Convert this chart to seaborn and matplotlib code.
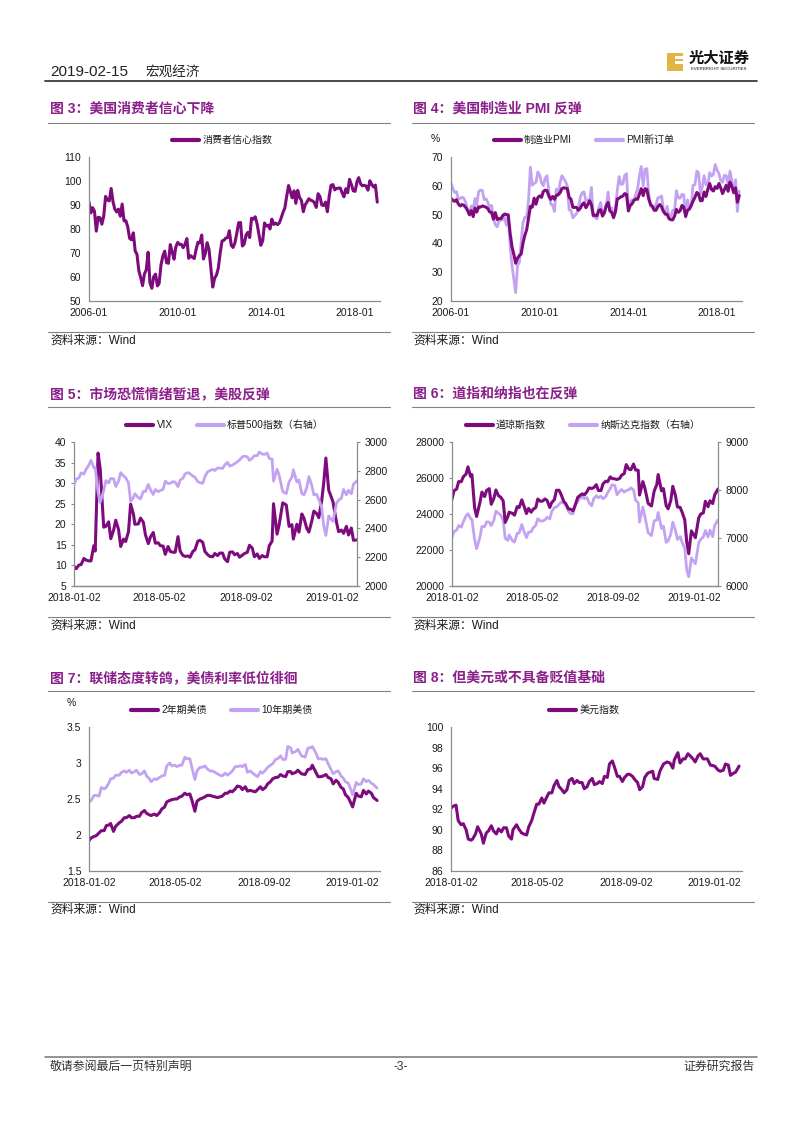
import numpy as np
import pandas as pd
import matplotlib
matplotlib.use('Agg')
import matplotlib.pyplot as plt
import seaborn as sns
from matplotlib.lines import Line2D
from matplotlib.patches import Rectangle

# ---------------- data ----------------
# Monthly (2006-01 .. 2019-01)
consumer_sentiment = [
    91.2, 86.7, 88.9, 87.4, 79.1, 84.9, 84.7, 82.0, 85.4, 93.6, 92.1, 91.7,
    96.9, 91.3, 88.4, 87.1, 88.3, 85.3, 90.4, 83.4, 83.4, 80.9, 76.1, 75.5,
    78.4, 70.8, 69.5, 62.6, 59.8, 56.4, 61.2, 63.0, 70.3, 57.6, 55.3, 60.1,
    61.2, 56.3, 57.3, 65.1, 68.7, 70.8, 66.0, 65.7, 73.5, 70.6, 67.4, 72.5,
    74.4, 73.6, 73.6, 72.2, 73.6, 76.0, 67.8, 68.9, 68.2, 67.7, 71.6, 74.5,
    74.2, 77.5, 67.5, 69.8, 74.3, 71.5, 63.7, 55.8, 59.5, 60.8, 63.7, 69.9,
    75.0, 75.3, 76.2, 76.4, 79.3, 73.2, 72.3, 74.3, 78.3, 82.6, 82.7, 72.9,
    73.8, 77.6, 78.6, 76.4, 84.5, 84.1, 85.1, 82.1, 77.5, 73.2, 75.1, 82.5,
    81.2, 81.6, 80.0, 84.1, 81.9, 82.5, 81.8, 82.5, 84.6, 86.9, 88.8, 93.6,
    98.1, 95.4, 93.0, 95.9, 90.7, 96.1, 93.1, 91.9, 87.2, 90.0, 91.3, 92.6,
    92.0, 91.7, 91.0, 89.0, 94.7, 93.5, 90.0, 89.8, 91.2, 87.2, 93.8, 98.2,
    98.5, 96.3, 96.9, 97.0, 97.1, 95.1, 93.4, 96.8, 95.1, 100.7, 98.5, 95.9,
    95.7, 99.7, 101.4, 98.8, 98.0, 98.2, 97.9, 96.2, 100.1, 98.6, 97.5, 98.3,
    91.2]

pmi = [
    55.6, 55.0, 54.6, 55.2, 53.7, 53.0, 53.5, 53.2, 52.5, 51.4, 49.9, 51.4,
    49.3, 52.3, 50.9, 52.7, 52.6, 53.0, 52.8, 52.6, 52.0, 50.9, 50.8, 48.4,
    50.7, 48.3, 48.6, 48.6, 49.6, 50.2, 50.0, 49.9, 43.5, 38.9, 36.2, 33.1,
    34.9, 35.8, 36.3, 40.1, 42.8, 44.8, 48.9, 52.9, 52.6, 55.7, 53.6, 55.9,
    56.5, 56.0, 58.0, 58.5, 58.3, 56.4, 55.3, 56.3, 55.3, 56.6, 57.0, 57.5,
    59.0, 59.3, 59.2, 59.0, 56.0, 55.3, 52.5, 52.5, 52.5, 51.5, 52.2, 53.5,
    54.1, 52.4, 53.4, 54.8, 53.5, 49.7, 49.8, 49.6, 51.5, 51.7, 49.5, 50.7,
    53.1, 54.2, 51.3, 50.7, 49.0, 50.9, 55.4, 55.7, 56.2, 56.4, 57.3, 57.0,
    51.3, 53.2, 53.7, 54.9, 55.4, 55.3, 57.1, 59.0, 56.6, 59.0, 58.7, 55.5,
    53.5, 52.9, 51.5, 51.5, 52.8, 53.5, 52.7, 51.1, 50.2, 50.1, 48.6, 48.2,
    48.2, 49.5, 51.8, 50.8, 51.3, 53.2, 52.6, 49.4, 51.5, 51.9, 53.2, 54.7,
    56.0, 57.7, 57.2, 54.8, 54.9, 57.8, 56.3, 58.8, 60.8, 58.7, 58.2, 59.7,
    59.1, 60.8, 59.3, 57.3, 58.7, 60.2, 58.1, 61.3, 59.8, 57.7, 59.3, 54.3,
    56.6]

pmi_new_orders = [
    61.0, 59.0, 57.7, 58.0, 55.5, 55.6, 56.0, 55.7, 54.1, 51.5, 51.0, 53.0,
    51.5, 55.6, 53.3, 58.0, 58.5, 58.4, 55.2, 55.5, 54.2, 52.3, 53.2, 48.6,
    46.5, 45.8, 47.8, 48.1, 48.2, 49.0, 46.3, 49.4, 39.1, 32.4, 27.6, 22.9,
    32.4, 33.4, 40.4, 47.2, 49.1, 49.0, 55.0, 66.5, 60.2, 60.8, 61.2, 64.8,
    63.7, 61.0, 60.0, 62.6, 63.5, 58.0, 53.7, 53.3, 51.1, 58.9, 56.6, 60.9,
    63.5, 62.5, 61.5, 59.9, 51.6, 51.4, 48.9, 49.7, 50.4, 52.4, 56.0, 57.6,
    57.9, 54.8, 55.1, 54.7, 59.4, 49.5, 49.0, 48.5, 52.3, 54.2, 50.3, 50.3,
    53.3, 57.8, 51.4, 52.3, 48.8, 51.9, 58.3, 63.2, 60.5, 60.6, 63.6, 64.2,
    51.2, 54.5, 55.1, 55.1, 56.9, 58.9, 63.4, 66.7, 60.0, 65.8, 66.0, 57.3,
    52.9, 52.5, 51.8, 53.5, 55.8, 56.0, 56.5, 51.7, 50.1, 52.9, 48.9, 49.2,
    51.5, 51.5, 58.3, 55.8, 55.7, 57.0, 56.9, 49.1, 55.1, 52.1, 53.0, 60.2,
    60.4, 65.1, 64.5, 57.2, 59.5, 63.5, 60.4, 60.3, 64.6, 63.4, 64.0, 67.4,
    65.4, 64.2, 61.9, 61.2, 63.7, 63.5, 60.2, 65.1, 61.8, 57.4, 62.1, 51.1,
    58.2]

month_start = '2006-01-01'

# Daily markets (sampled trading days, 2018-01-02 .. 2019-02-06)
trade_dates = [
    '2018-01-02', '2018-01-05', '2018-01-09', '2018-01-12', '2018-01-16', '2018-01-19',
    '2018-01-23', '2018-01-26', '2018-01-30',
    '2018-02-01', '2018-02-05', '2018-02-08', '2018-02-13', '2018-02-16', '2018-02-20',
    '2018-02-23', '2018-02-27',
    '2018-03-02', '2018-03-06', '2018-03-09', '2018-03-13', '2018-03-16', '2018-03-20',
    '2018-03-23', '2018-03-27', '2018-03-29',
    '2018-04-03', '2018-04-06', '2018-04-10', '2018-04-13', '2018-04-17', '2018-04-20',
    '2018-04-24', '2018-04-27',
    '2018-05-01', '2018-05-04', '2018-05-08', '2018-05-11', '2018-05-15', '2018-05-18',
    '2018-05-22', '2018-05-25', '2018-05-29',
    '2018-06-01', '2018-06-05', '2018-06-08', '2018-06-12', '2018-06-15', '2018-06-19',
    '2018-06-22', '2018-06-26', '2018-06-29',
    '2018-07-03', '2018-07-06', '2018-07-10', '2018-07-13', '2018-07-17', '2018-07-20',
    '2018-07-24', '2018-07-27', '2018-07-31',
    '2018-08-03', '2018-08-07', '2018-08-10', '2018-08-14', '2018-08-17', '2018-08-21',
    '2018-08-24', '2018-08-28', '2018-08-31',
    '2018-09-04', '2018-09-07', '2018-09-11', '2018-09-14', '2018-09-18', '2018-09-21',
    '2018-09-25', '2018-09-28',
    '2018-10-02', '2018-10-05', '2018-10-09', '2018-10-11', '2018-10-16', '2018-10-19',
    '2018-10-24', '2018-10-29',
    '2018-11-02', '2018-11-06', '2018-11-08', '2018-11-13', '2018-11-16', '2018-11-20',
    '2018-11-23', '2018-11-27', '2018-11-30',
    '2018-12-04', '2018-12-07', '2018-12-11', '2018-12-14', '2018-12-18', '2018-12-21',
    '2018-12-24', '2018-12-28',
    '2019-01-03', '2019-01-08', '2019-01-11', '2019-01-15', '2019-01-18', '2019-01-22',
    '2019-01-25', '2019-01-29',
    '2019-02-01', '2019-02-06']

vix = [9.8, 9.2, 10.1, 10.2, 11.7, 11.3, 11.1, 11.1, 14.8,
       13.5, 37.3, 33.5, 19.3, 19.5, 20.6, 16.5, 18.6,
       21.0, 18.7, 14.6, 16.4, 15.8, 18.2, 24.9, 22.5, 20.0,
       20.1, 21.5, 20.5, 17.4, 15.3, 16.9, 18.0, 15.4,
       15.5, 14.8, 14.7, 12.7, 14.6, 13.4, 13.2, 13.2, 17.0,
       13.5, 12.4, 12.2, 12.3, 12.0, 13.4, 13.8, 15.9, 16.1,
       15.6, 13.4, 12.6, 12.2, 12.1, 12.9, 12.4, 13.0, 13.0,
       11.6, 10.9, 13.2, 13.3, 12.6, 12.9, 12.0, 12.5, 12.9,
       13.2, 14.9, 14.2, 12.1, 12.8, 11.7, 12.4, 12.1,
       12.1, 14.8, 15.9, 25.0, 17.6, 19.9, 25.2, 24.7,
       19.5, 19.9, 16.4, 20.0, 18.1, 22.5, 21.5, 19.0, 18.1,
       20.7, 23.2, 22.6, 21.6, 25.6, 30.1, 36.1, 28.3,
       25.5, 20.5, 18.2, 18.6, 17.8, 19.5, 17.4, 19.1,
       16.1, 16.2]

spx = [2696, 2743, 2751, 2786, 2777, 2810, 2839, 2873, 2822,
       2822, 2649, 2581, 2662, 2732, 2716, 2747, 2744,
       2691, 2728, 2787, 2765, 2752, 2717, 2588, 2613, 2641,
       2614, 2605, 2657, 2656, 2706, 2670, 2635, 2670,
       2655, 2663, 2672, 2728, 2711, 2713, 2725, 2721, 2690,
       2735, 2749, 2779, 2787, 2780, 2763, 2755, 2724, 2718,
       2713, 2760, 2794, 2801, 2810, 2802, 2820, 2819, 2816,
       2840, 2858, 2833, 2840, 2850, 2863, 2875, 2897, 2902,
       2897, 2872, 2888, 2905, 2905, 2930, 2916, 2914,
       2923, 2886, 2880, 2728, 2810, 2768, 2656, 2641,
       2723, 2756, 2807, 2722, 2736, 2642, 2633, 2682, 2760,
       2700, 2633, 2637, 2600, 2547, 2417, 2351, 2486,
       2448, 2575, 2596, 2610, 2671, 2633, 2665, 2640,
       2707, 2731]

dow = [24824, 25296, 25386, 25803, 25793, 26072, 26211, 26617, 26077,
       26187, 24346, 23861, 24641, 25219, 24965, 25310, 25410,
       24538, 24874, 25336, 25008, 24946, 24727, 23533, 23857, 24103,
       24033, 23933, 24408, 24360, 24786, 24463, 24025, 24311,
       24100, 24263, 24361, 24831, 24706, 24715, 24834, 24753, 24362,
       24635, 24799, 25317, 25321, 25090, 24701, 24581, 24284, 24271,
       24175, 24456, 24920, 25019, 25120, 25058, 25242, 25451, 25415,
       25463, 25629, 25313, 25300, 25669, 25822, 25790, 26065, 25965,
       25952, 25917, 25971, 26155, 26247, 26744, 26492, 26458,
       26774, 26447, 26431, 25053, 25799, 25444, 24584, 24443,
       25271, 25636, 26191, 25287, 25413, 24466, 24286, 24748, 25538,
       25027, 24389, 24370, 24101, 23676, 22445, 21792, 23062,
       22686, 23787, 23996, 24065, 24706, 24405, 24737, 24580,
       25064, 25390]

nasdaq = [7007, 7137, 7164, 7261, 7224, 7336, 7460, 7506, 7402,
          7386, 6968, 6777, 7013, 7240, 7235, 7337, 7330,
          7258, 7372, 7561, 7511, 7482, 7365, 6993, 6950, 7063,
          6941, 6915, 7094, 7107, 7281, 7146, 7008, 7120,
          7131, 7210, 7266, 7403, 7352, 7354, 7379, 7434, 7396,
          7554, 7637, 7646, 7703, 7746, 7725, 7693, 7561, 7510,
          7503, 7688, 7759, 7826, 7855, 7820, 7841, 7737, 7672,
          7812, 7883, 7839, 7870, 7816, 7859, 7946, 8030, 8110,
          8092, 7903, 7972, 8010, 7956, 7987, 8007, 8046,
          7999, 7789, 7738, 7329, 7645, 7449, 7108, 7050,
          7357, 7376, 7531, 7200, 7248, 6909, 6939, 7082, 7331,
          7158, 6969, 7031, 6911, 6784, 6333, 6193, 6585,
          6463, 6897, 6972, 7023, 7157, 7020, 7165, 7028,
          7264, 7375]

ust2y = [1.92, 1.96, 1.98, 1.99, 2.03, 2.06, 2.06, 2.13, 2.14,
         2.16, 2.05, 2.12, 2.17, 2.19, 2.24, 2.24, 2.27,
         2.24, 2.24, 2.26, 2.26, 2.31, 2.34, 2.30, 2.28, 2.27,
         2.29, 2.27, 2.31, 2.36, 2.39, 2.46, 2.48, 2.49,
         2.50, 2.50, 2.53, 2.54, 2.58, 2.56, 2.57, 2.48, 2.33,
         2.47, 2.50, 2.51, 2.53, 2.55, 2.55, 2.54, 2.53, 2.52,
         2.53, 2.54, 2.58, 2.58, 2.61, 2.60, 2.64, 2.68, 2.67,
         2.63, 2.67, 2.61, 2.62, 2.61, 2.60, 2.63, 2.67, 2.63,
         2.66, 2.71, 2.74, 2.78, 2.80, 2.80, 2.84, 2.82,
         2.81, 2.88, 2.88, 2.85, 2.87, 2.90, 2.85, 2.84,
         2.91, 2.92, 2.97, 2.87, 2.81, 2.81, 2.82, 2.84, 2.80,
         2.78, 2.71, 2.76, 2.73, 2.66, 2.64, 2.56, 2.52,
         2.39, 2.58, 2.54, 2.53, 2.62, 2.57, 2.61, 2.58,
         2.52, 2.48]

ust10y = [2.46, 2.48, 2.55, 2.55, 2.54, 2.66, 2.64, 2.66, 2.73,
          2.78, 2.79, 2.83, 2.83, 2.87, 2.89, 2.87, 2.90,
          2.86, 2.88, 2.90, 2.84, 2.85, 2.89, 2.82, 2.78, 2.74,
          2.78, 2.77, 2.80, 2.82, 2.83, 2.96, 3.00, 2.96,
          2.97, 2.95, 2.97, 2.97, 3.08, 3.06, 3.06, 2.93, 2.77,
          2.89, 2.94, 2.94, 2.96, 2.92, 2.89, 2.89, 2.87, 2.85,
          2.83, 2.82, 2.86, 2.83, 2.86, 2.89, 2.95, 2.95, 2.96,
          2.95, 2.98, 2.87, 2.89, 2.86, 2.83, 2.81, 2.88, 2.86,
          2.90, 2.94, 2.97, 2.99, 3.05, 3.06, 3.10, 3.05,
          3.05, 3.23, 3.21, 3.14, 3.16, 3.19, 3.10, 3.08,
          3.21, 3.21, 3.23, 3.14, 3.06, 3.06, 3.05, 3.06, 2.99,
          2.91, 2.85, 2.88, 2.89, 2.82, 2.79, 2.74, 2.72,
          2.56, 2.73, 2.70, 2.71, 2.78, 2.74, 2.76, 2.72,
          2.70, 2.65]

dxy = [92.1, 92.3, 92.4, 90.9, 90.5, 90.6, 90.0, 89.1, 89.0,
       89.1, 89.6, 90.3, 89.6, 88.7, 89.7, 89.9, 90.4,
       89.9, 89.6, 90.1, 89.8, 90.2, 90.2, 89.4, 89.1, 90.0,
       90.5, 90.1, 89.7, 89.6, 89.5, 90.3, 90.9, 91.6,
       92.5, 92.5, 93.1, 92.6, 93.2, 93.6, 93.6, 94.3, 94.8,
       94.2, 93.9, 93.6, 93.9, 94.8, 95.0, 94.5, 94.8, 94.6,
       94.6, 94.0, 94.2, 94.7, 95.0, 94.4, 94.5, 94.7, 94.5,
       95.2, 95.1, 96.4, 96.7, 96.1, 95.2, 95.2, 94.7, 95.1,
       95.4, 95.4, 95.2, 94.9, 94.6, 93.9, 94.2, 95.1,
       95.5, 95.6, 95.7, 95.0, 94.9, 95.7, 96.4, 96.6,
       96.5, 96.0, 96.8, 97.5, 96.5, 96.9, 96.9, 97.4, 97.2,
       96.9, 96.6, 97.2, 97.4, 96.9, 96.9, 96.9, 96.3,
       96.2, 95.8, 95.7, 95.8, 96.4, 96.3, 95.3, 95.5,
       95.6, 96.2]

monthly_ticks = ['2006-01', '2010-01', '2014-01', '2018-01']
daily_ticks = ['2018-01-02', '2018-05-02', '2018-09-02', '2019-01-02']

# ---------------- style ----------------
sns.set_theme(style='white')
FAM = ['Liberation Sans', 'Noto Sans CJK SC', 'DejaVu Sans']
plt.rcParams['font.family'] = FAM
plt.rcParams['axes.unicode_minus'] = False

DARK = '#7E0B7E'
LIGHT = '#C4A2F2'
TITLE = '#8A1F8A'
AXC = '#8C8C8C'
TXT = '#1A1A1A'
LW_D = 2.2
LW_L = 2.0

W, H = 802, 1133
fig = plt.figure(figsize=(W / 100, H / 100), dpi=100)
fig.patch.set_facecolor('white')


def fx(x):
    return x / W


def fy(y):
    return 1 - y / H


def hline(x0, x1, y, color='#808080', lw=0.8):
    fig.add_artist(Line2D([fx(x0), fx(x1)], [fy(y), fy(y)], color=color, lw=lw))


def make_axes(x0, y0, x1, y1):
    return fig.add_axes([fx(x0), fy(y1), (x1 - x0) / W, (y1 - y0) / H])


def style(ax, show_left=True, show_right=False):
    ax.set_facecolor('none')
    ax.grid(False)
    ax.spines['top'].set_visible(False)
    ax.spines['right'].set_visible(show_right)
    ax.spines['left'].set_visible(show_left)
    for s in ['left', 'bottom', 'right']:
        ax.spines[s].set_color(AXC)
        ax.spines[s].set_linewidth(0.9)
    ax.tick_params(axis='y', which='both', direction='out', length=2.5, width=0.8,
                   color=AXC, labelsize=7.5, labelcolor=TXT, pad=3)
    ax.tick_params(axis='x', which='both', direction='in', length=3, width=0.8,
                   color=AXC, labelsize=7.5, labelcolor=TXT, pad=5)
    ax.set_xlabel('')
    ax.set_ylabel('')


def frame(col, row, title):
    tx = 50 if col == 0 else 413
    xl0, xl1 = (48, 390) if col == 0 else (412, 754)
    ty, ly, sly, sy = [(109, 123, 332, 341), (394, 407, 617, 626), (678, 691, 902, 910)][row]
    fig.text(fx(tx), fy(ty), title, color=TITLE, fontsize=10, fontweight='bold',
             ha='left', va='center')
    hline(xl0, xl1, ly)
    hline(xl0, xl1, sly)
    fig.text(fx(tx), fy(sy), '资料来源：Wind', color=TXT, fontsize=8.5, ha='left', va='center')


def legend(items, cx, cy):
    handles = [Line2D([], [], color=c, lw=3.0) for c, _ in items]
    labels = [lab for _, lab in items]
    fig.legend(handles, labels, loc='center', bbox_to_anchor=(fx(cx), fy(cy)),
               bbox_transform=fig.transFigure, ncol=len(items), frameon=False,
               prop={'size': 7.2, 'family': FAM}, handlelength=2.7, handletextpad=0.35,
               columnspacing=2.4, borderaxespad=0, borderpad=0, labelcolor=TXT)


def date_ticks(ax, ticks, labels):
    ax.set_xticks(pd.to_datetime(ticks))
    ax.set_xticklabels(labels)


months = pd.date_range(month_start, periods=len(consumer_sentiment), freq='MS')
days = pd.to_datetime(trade_dates)

# ---------------- header / footer ----------------
fig.text(fx(50), fy(72), '2019-02-15', fontsize=11, color='#222222', ha='left', va='center')
fig.text(fx(145), fy(72), '宏观经济', fontsize=9.8, color='#222222', ha='left', va='center')
hline(45, 757, 81, color='#3a3a3a', lw=1.3)
# logo
fig.add_artist(Rectangle((fx(667), fy(71)), 16 / W, 18 / H, transform=fig.transFigure,
                         facecolor='#E2B446', edgecolor='none'))
fig.add_artist(Rectangle((fx(675), fy(63.5)), 8 / W, 2.2 / H, transform=fig.transFigure,
                         facecolor='white', edgecolor='none'))
fig.add_artist(Rectangle((fx(675), fy(58.5)), 8 / W, 2.2 / H, transform=fig.transFigure,
                         facecolor='white', edgecolor='none'))
fig.text(fx(719), fy(59), '光大证券', fontsize=11, fontweight='bold', color='#111111',
         ha='center', va='center')
fig.text(fx(719), fy(69.5), 'EVERBRIGHT SECURITIES', fontsize=3.2, color='#111111',
         ha='center', va='center')

hline(45, 757, 1057, color='#808080', lw=1.2)
fig.text(fx(50), fy(1067), '敬请参阅最后一页特别声明', fontsize=8.6, color='#333333', ha='left', va='center')
fig.text(fx(401), fy(1067), '-3-', fontsize=8.6, color='#333333', ha='center', va='center')
fig.text(fx(755), fy(1067), '证券研究报告', fontsize=8.6, color='#333333', ha='right', va='center')

# ---------------- Figure 3 ----------------
frame(0, 0, '图 3：美国消费者信心下降')
ax = make_axes(89, 157, 380, 301)
sns.lineplot(x=months, y=consumer_sentiment, ax=ax, color=DARK, linewidth=LW_D, legend=False)
style(ax)
ax.set_ylim(50, 110)
ax.set_yticks(np.arange(50, 111, 10))
ax.set_xlim(pd.Timestamp('2006-01-01'), pd.Timestamp('2019-02-15'))
date_ticks(ax, [t + '-01' for t in monthly_ticks], monthly_ticks)
legend([(DARK, '消费者信心指数')], 222, 140)

# ---------------- Figure 4 ----------------
frame(1, 0, '图 4：美国制造业 PMI 反弹')
ax = make_axes(451, 157, 742, 301)
sns.lineplot(x=months, y=pmi_new_orders, ax=ax, color=LIGHT, linewidth=LW_L, legend=False)
sns.lineplot(x=months, y=pmi, ax=ax, color=DARK, linewidth=LW_D, legend=False)
style(ax)
ax.set_ylim(20, 70)
ax.set_yticks(np.arange(20, 71, 10))
ax.set_xlim(pd.Timestamp('2006-01-01'), pd.Timestamp('2019-02-15'))
date_ticks(ax, [t + '-01' for t in monthly_ticks], monthly_ticks)
fig.text(fx(435), fy(139), '%', fontsize=7.5, color=TXT, ha='center', va='center')
legend([(DARK, '制造业PMI'), (LIGHT, 'PMI新订单')], 584, 140)

# ---------------- Figure 5 ----------------
frame(0, 1, '图 5：市场恐慌情绪暂退，美股反弹')
ax = make_axes(74, 442, 357, 586)
sns.lineplot(x=days, y=vix, ax=ax, color=DARK, linewidth=LW_D, legend=False)
style(ax)
ax.set_ylim(5, 40)
ax.set_yticks(np.arange(5, 41, 5))
ax2 = ax.twinx()
sns.lineplot(x=days, y=spx, ax=ax2, color=LIGHT, linewidth=LW_L, legend=False)
style(ax2, show_left=False, show_right=True)
ax2.set_ylim(2000, 3000)
ax2.set_yticks(np.arange(2000, 3001, 200))
for a in (ax, ax2):
    a.set_xlim(pd.Timestamp('2018-01-02'), pd.Timestamp('2019-02-06'))
date_ticks(ax, daily_ticks, daily_ticks)
legend([(DARK, 'VIX'), (LIGHT, '标普500指数（右轴）')], 225, 425)

# ---------------- Figure 6 ----------------
frame(1, 1, '图 6：道指和纳指也在反弹')
ax = make_axes(452, 442, 718, 586)
sns.lineplot(x=days, y=dow, ax=ax, color=DARK, linewidth=LW_D, legend=False)
style(ax)
ax.set_ylim(20000, 28000)
ax.set_yticks(np.arange(20000, 28001, 2000))
ax2 = ax.twinx()
sns.lineplot(x=days, y=nasdaq, ax=ax2, color=LIGHT, linewidth=LW_L, legend=False)
style(ax2, show_left=False, show_right=True)
ax2.set_ylim(6000, 9000)
ax2.set_yticks(np.arange(6000, 9001, 1000))
ax.set_zorder(ax2.get_zorder() + 1)
ax.patch.set_visible(False)
for a in (ax, ax2):
    a.set_xlim(pd.Timestamp('2018-01-02'), pd.Timestamp('2019-02-06'))
date_ticks(ax, daily_ticks, daily_ticks)
legend([(DARK, '道琼斯指数'), (LIGHT, '纳斯达克指数（右轴）')], 583, 425)

# ---------------- Figure 7 ----------------
frame(0, 2, '图 7：联储态度转鸽，美债利率低位徘徊')
ax = make_axes(89, 727, 380, 871)
sns.lineplot(x=days, y=ust10y, ax=ax, color=LIGHT, linewidth=LW_L, legend=False)
sns.lineplot(x=days, y=ust2y, ax=ax, color=DARK, linewidth=LW_D, legend=False)
style(ax)
ax.set_ylim(1.5, 3.5)
ax.set_yticks([1.5, 2, 2.5, 3, 3.5])
ax.set_yticklabels(['1.5', '2', '2.5', '3', '3.5'])
ax.set_xlim(pd.Timestamp('2018-01-02'), pd.Timestamp('2019-02-10'))
date_ticks(ax, daily_ticks, daily_ticks)
fig.text(fx(71), fy(703), '%', fontsize=7.5, color=TXT, ha='center', va='center')
legend([(DARK, '2年期美债'), (LIGHT, '10年期美债')], 222, 710)

# ---------------- Figure 8 ----------------
frame(1, 2, '图 8：但美元或不具备贬值基础')
ax = make_axes(451, 727, 742, 871)
sns.lineplot(x=days, y=dxy, ax=ax, color=DARK, linewidth=LW_D, legend=False)
style(ax)
ax.set_ylim(86, 100)
ax.set_yticks(np.arange(86, 101, 2))
ax.set_xlim(pd.Timestamp('2018-01-02'), pd.Timestamp('2019-02-10'))
date_ticks(ax, daily_ticks, daily_ticks)
legend([(DARK, '美元指数')], 584, 710)

fig.savefig('out.png', dpi=100, facecolor='white')
